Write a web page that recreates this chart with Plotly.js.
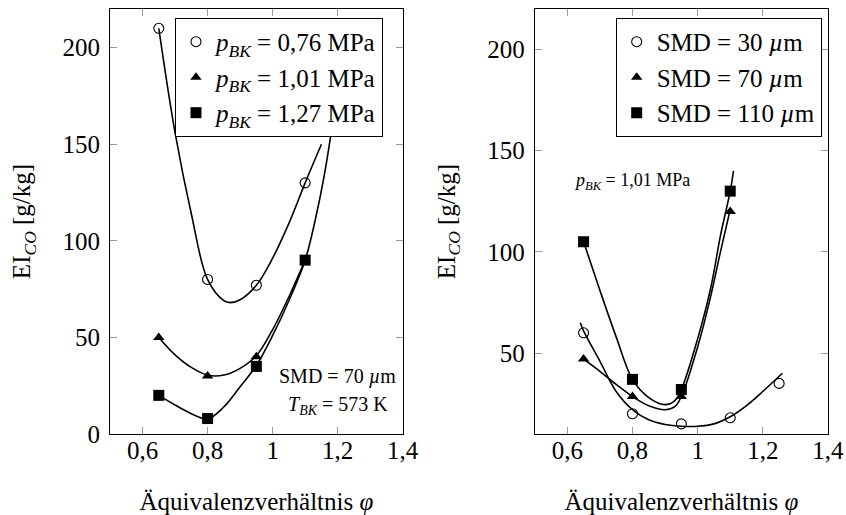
<!DOCTYPE html>
<html>
<head>
<meta charset="utf-8">
<script src="https://cdn.plot.ly/plotly-3.0.1.min.js"></script>
<style>html,body{margin:0;padding:0;background:#fff;}#chart{width:846px;height:515px;}</style>
</head>
<body>
<div id="chart"></div>
<script>
// ---- measured points ----
const phiLeft = [0.65, 0.8, 0.95, 1.1];
const leftCircleY = [210, 80, 77, 130];   // p_BK = 0,76 MPa
const leftTriY    = [50, 30, 40, 90];     // p_BK = 1,01 MPa
const leftSquareY = [20, 8, 35, 90];      // p_BK = 1,27 MPa

const phiRightCircle = [0.65, 0.8, 0.95, 1.1, 1.25];
const rightCircleY = [60, 20, 15, 18, 35];   // SMD = 30 µm
const phiRight = [0.65, 0.8, 0.95, 1.1];
const rightTriY    = [47, 28.5, 28.5, 120];  // SMD = 70 µm
const rightSquareY = [105, 37, 32, 130];     // SMD = 110 µm

// ---- fitted curves ----
const leftCircleFitX = [0.65,0.7,0.75,0.8,0.85,0.87,0.9,0.95,1.0,1.05,1.1,1.15];
const leftCircleFitY = [210,156,114,80,69,68,69.5,77,91,109,130,150];
const leftTriFitX = [0.65,0.7,0.75,0.8,0.85,0.9,0.95,1.0,1.05,1.1];
const leftTriFitY = [50,41,34.5,30.5,30.5,34,40.5,54,71,90];
const leftSqFitX = [0.65,0.7,0.75,0.8,0.85,0.9,0.95,1.0,1.05,1.1,1.13,1.16,1.19,1.22];
const leftSqFitY = [20,15,10.5,7.8,14,24.5,35.5,51,69,90,110,135,168,210];

const rightCircleFitX = [0.64,0.65,0.7,0.75,0.8,0.85,0.9,0.95,1.0,1.05,1.1,1.15,1.2,1.26];
const rightCircleFitY = [65,61,46,31,22,17,14.7,13.8,13.8,15,18.5,24,31,40];
const rightTriFitX = [0.65,0.7,0.75,0.8,0.85,0.9,0.93,0.95,1.0,1.04,1.07,1.1];
const rightTriFitY = [47,41,34.5,28.5,24,22,23.5,28.5,53,78,100,121];
const rightSqFitX = [0.65,0.7,0.75,0.8,0.85,0.9,0.93,0.95,1.0,1.04,1.07,1.1,1.11];
const rightSqFitY = [105,81,58,37,28,24.5,26.5,32,57,82,108,130,140];

// ---- labels ----
const xTickVals = [0.6, 0.8, 1.0, 1.2, 1.4];
const xTickText = ['0,6', '0,8', '1', '1,2', '1,4'];
const yTickVals = [0, 50, 100, 150, 200];
const yTickText = ['0', '50', '100', '150', '200'];
const leftNames = ['<i>p</i><sub><i>BK</i></sub> = 0,76 MPa', '<i>p</i><sub><i>BK</i></sub> = 1,01 MPa', '<i>p</i><sub><i>BK</i></sub> = 1,27 MPa'];
const rightNames = ['SMD = 30 <i>µ</i>m', 'SMD = 70 <i>µ</i>m', 'SMD = 110 <i>µ</i>m'];
const xTitle = 'Äquivalenzverhältnis <i>φ</i>';
const yTitle = 'EI<sub><i>CO</i></sub> [g/kg]';

const FONT = '"Liberation Serif", "Times New Roman", serif';
const lineStyle = {color: 'black', width: 1.6, shape: 'spline', smoothing: 1};
const mCircle = {symbol: 'circle-open', size: 10, color: 'black', line: {width: 1.1, color: 'black'}};
const mTri = {symbol: 'triangle-up', size: 10, color: 'black'};
const mSq = {symbol: 'square', size: 11, color: 'black'};

function curve(x, y, xa, ya) {
  return {x: x, y: y, xaxis: xa, yaxis: ya, mode: 'lines', line: lineStyle, showlegend: false, hoverinfo: 'skip'};
}
function pts(x, y, m, name, xa, ya, lg) {
  return {x: x, y: y, xaxis: xa, yaxis: ya, mode: 'markers', marker: m, name: name, legend: lg, cliponaxis: false};
}

const data = [
  curve(leftCircleFitX, leftCircleFitY, 'x', 'y'),
  curve(leftTriFitX, leftTriFitY, 'x', 'y'),
  curve(leftSqFitX, leftSqFitY, 'x', 'y'),
  pts(phiLeft, leftCircleY, mCircle, leftNames[0], 'x', 'y', 'legend'),
  pts(phiLeft, leftTriY, mTri, leftNames[1], 'x', 'y', 'legend'),
  pts(phiLeft, leftSquareY, mSq, leftNames[2], 'x', 'y', 'legend'),
  curve(rightCircleFitX, rightCircleFitY, 'x2', 'y2'),
  curve(rightTriFitX, rightTriFitY, 'x2', 'y2'),
  curve(rightSqFitX, rightSqFitY, 'x2', 'y2'),
  pts(phiRightCircle, rightCircleY, mCircle, rightNames[0], 'x2', 'y2', 'legend2'),
  pts(phiRight, rightTriY, mTri, rightNames[1], 'x2', 'y2', 'legend2'),
  pts(phiRight, rightSquareY, mSq, rightNames[2], 'x2', 'y2', 'legend2')
];

function xAxis(domain, anchor) {
  return {domain: domain, anchor: anchor, range: [0.5, 1.4], tickmode: 'array', tickvals: xTickVals, ticktext: xTickText,
    ticks: 'inside', ticklen: 7, tickwidth: 1, tickcolor: '#999', showline: true, linecolor: 'black', linewidth: 1,
    mirror: 'allticks', showgrid: false, zeroline: false, tickfont: {size: 25, family: FONT, color: 'black'},
    ticklabelstandoff: -6,
    title: {text: xTitle, font: {size: 25, family: FONT, color: 'black'}, standoff: 29}};
}
function yAxis(range, anchor) {
  return {range: range, anchor: anchor, tickmode: 'array', tickvals: yTickVals, ticktext: yTickText,
    ticks: 'inside', ticklen: 7, tickwidth: 1, tickcolor: '#999', showline: true, linecolor: 'black', linewidth: 1,
    mirror: 'allticks', showgrid: false, zeroline: false, tickfont: {size: 25, family: FONT, color: 'black'},
    ticklabelstandoff: 4,
    title: {text: yTitle, font: {size: 25, family: FONT, color: 'black'}, standoff: 24}};
}

const legendStyle = {xanchor: 'left', yanchor: 'top', bgcolor: 'white', bordercolor: 'black', borderwidth: 1,
  font: {size: 25, family: FONT, color: 'black'}, itemwidth: 30, tracegroupgap: 0};

const layout = {
  width: 846, height: 515,
  margin: {l: 110, r: 18, t: 9, b: 81},
  paper_bgcolor: 'white', plot_bgcolor: 'white',
  font: {family: FONT, color: 'black'},
  xaxis: xAxis([0, 0.4077], 'y'),
  yaxis: yAxis([0, 220], 'x'),
  xaxis2: xAxis([0.5915, 1], 'y2'),
  yaxis2: yAxis([10, 220], 'x2'),
  legend: Object.assign({x: 0.0905, y: 0.979}, legendStyle),
  legend2: Object.assign({x: 0.7043, y: 0.979}, legendStyle),
  annotations: [
    {xref: 'x', yref: 'y', x: 1.2, y: 30, text: 'SMD = 70 <i>µ</i>m', showarrow: false, xanchor: 'center', yanchor: 'middle', font: {size: 20, family: FONT, color: 'black'}},
    {xref: 'x', yref: 'y', x: 1.2, y: 15, text: '<i>T</i><sub><i>BK</i></sub> = 573 K', showarrow: false, xanchor: 'center', yanchor: 'middle', font: {size: 20, family: FONT, color: 'black'}},
    {xref: 'x2', yref: 'y2', x: 0.798, y: 135, text: '<i>p</i><sub><i>BK</i></sub> = 1,01 MPa', showarrow: false, xanchor: 'center', yanchor: 'middle', font: {size: 18, family: FONT, color: 'black'}}
  ],
  showlegend: true
};

Plotly.newPlot('chart', data, layout, {staticPlot: true, displayModeBar: false});
</script>
</body>
</html>
